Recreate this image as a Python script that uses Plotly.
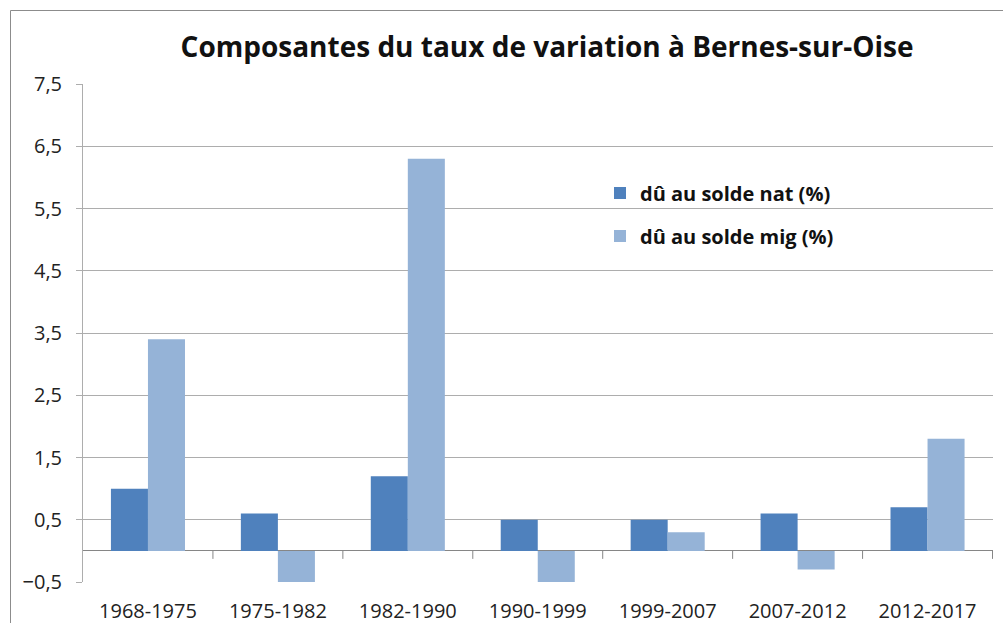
import plotly.graph_objects as go

# Composantes du taux de variation annuel (%) par période intercensitaire
periodes = ["1968-1975", "1975-1982", "1982-1990", "1990-1999",
            "1999-2007", "2007-2012", "2012-2017"]
solde_nat = [1.0, 0.6, 1.2, 0.5, 0.5, 0.6, 0.7]
solde_mig = [3.4, -0.5, 6.3, -0.5, 0.3, -0.3, 1.8]
y_ticks = [-0.5, 0.5, 1.5, 2.5, 3.5, 4.5, 5.5, 6.5, 7.5]

W, H = 1003, 623
ML, MR, MT, MB = 83, 10, 84, 41
PW, PH = W - ML - MR, H - MT - MB
FONT = "'Open Sans', sans-serif"
GRID = "#ADADAD"

fig = go.Figure()
fig.add_trace(go.Bar(x=periodes, y=solde_nat, name="dû au solde nat (%)",
                     marker=dict(color="#4F81BD", line=dict(width=0)),
                     legend="legend", showlegend=True))
fig.add_trace(go.Bar(x=periodes, y=solde_mig, name="dû au solde mig (%)",
                     marker=dict(color="#95B3D7", line=dict(width=0)),
                     legend="legend2", showlegend=True))

def px_x(p):
    return (p - ML) / PW

def px_y(p):
    return 1 - (p - MT) / PH

# small tick marks below the zero line at category boundaries
shapes = []
for k in range(1, len(periodes) + 1):
    shapes.append(dict(type="line", xref="x", yref="y", ysizemode="pixel",
                       yanchor=0, x0=k - 0.5, x1=k - 0.5, y0=0, y1=-8,
                       line=dict(color="#868686", width=1)))
# outer frame of the chart area
shapes.append(dict(type="line", xref="paper", yref="paper",
                   x0=px_x(10.5), x1=px_x(W + 5), y0=px_y(10.5), y1=px_y(10.5),
                   line=dict(color="#8C8C8C", width=1)))
shapes.append(dict(type="line", xref="paper", yref="paper",
                   x0=px_x(10.5), x1=px_x(10.5), y0=px_y(10.5), y1=px_y(H + 5),
                   line=dict(color="#8C8C8C", width=1)))

legend_common = dict(xref="paper", yref="paper", xanchor="left", yanchor="middle",
                     bgcolor="rgba(0,0,0,0)", itemwidth=30,
                     font=dict(family=FONT, size=20, color="#111111", weight="bold"))

fig.update_layout(
    width=W, height=H,
    margin=dict(l=ML, r=MR, t=MT, b=MB),
    paper_bgcolor="white", plot_bgcolor="white",
    separators=", ",
    barmode="group", bargap=0.43, bargroupgap=0,
    title=dict(text="Composantes du taux de variation à Bernes-sur-Oise",
               x=547 / W, xanchor="center",
               y=1 - 47 / H, yanchor="middle",
               font=dict(family=FONT, size=28, color="#111111", weight="bold")),
    xaxis=dict(showgrid=False, showline=False, zeroline=False, ticks="",
               automargin=False, ticklabelstandoff=15,
               tickfont=dict(family=FONT, size=20, color="#222222")),
    yaxis=dict(range=[-0.5, 7.5], tickvals=y_ticks, tickformat=".1f",
               automargin=False,
               showgrid=True, gridcolor=GRID, gridwidth=1,
               zeroline=True, zerolinecolor="#868686", zerolinewidth=1,
               showline=True, linecolor=GRID, linewidth=1,
               ticks="outside", ticklen=6, tickcolor=GRID,
               ticklabelstandoff=10,
               tickfont=dict(family=FONT, size=20, color="#222222")),
    legend=dict(x=px_x(600), y=px_y(193), **legend_common),
    legend2=dict(x=px_x(600), y=px_y(236), **legend_common),
    shapes=shapes,
)

fig.write_html("out.html")
